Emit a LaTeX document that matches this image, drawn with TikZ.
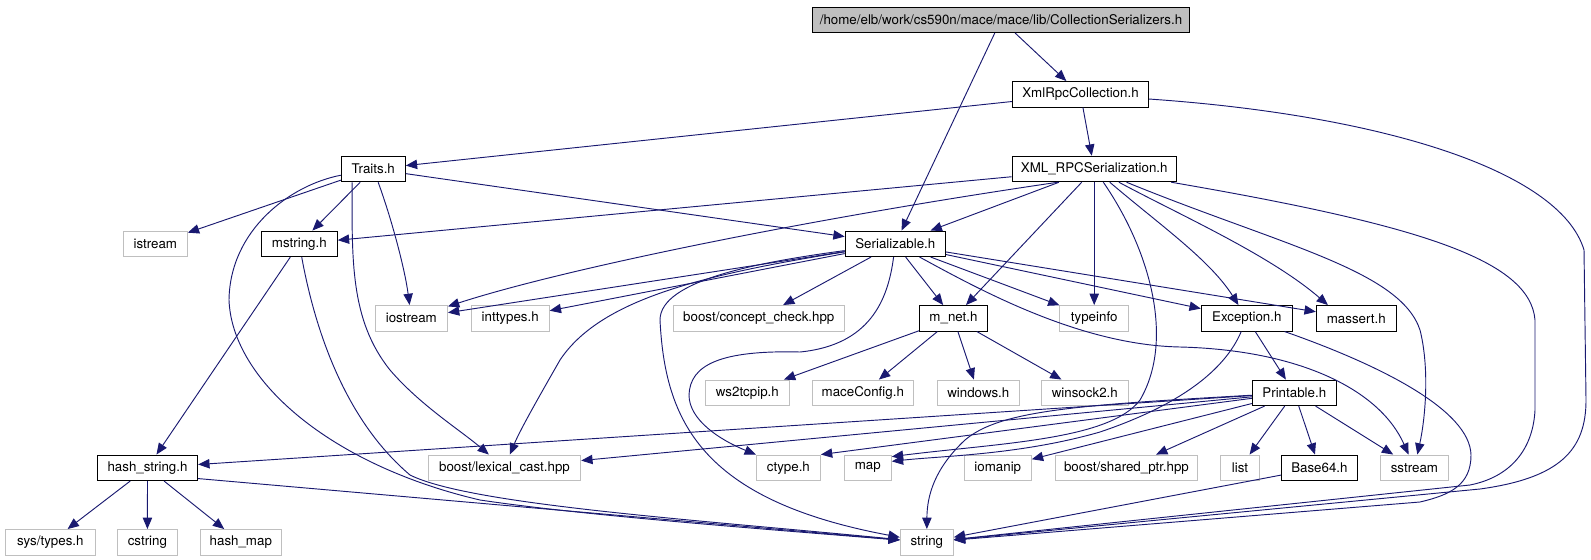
\documentclass[tikz,border=0pt]{standalone}
\usepackage{fontspec}
\setmainfont{TeX Gyre Heros}
\usetikzlibrary{arrows.meta}
\definecolor{edgec}{HTML}{191970}
\definecolor{gbord}{HTML}{BFBFBF}
\definecolor{topfill}{HTML}{BFBFBF}
\begin{document}
\begin{tikzpicture}[x=0.75pt,y=-0.75pt,
  font=\fontsize{10}{12}\selectfont,
  doc/.style={draw=black,line width=0.75pt,fill=white,inner sep=0pt,minimum height=25.5*0.75pt,minimum width=#1*0.75pt},
  sys/.style={draw=gbord,line width=0.75pt,fill=white,inner sep=0pt,minimum height=25.5*0.75pt,minimum width=#1*0.75pt},
  dep/.style={draw=edgec,line width=0.7pt,-{Triangle[length=8.5pt,width=7pt]}}]
\useasboundingbox (0,0) rectangle (1591,560);
% nodes
\node[doc=377.5,fill=topfill] (top) at (1001,19.8) {/home/elb/work/cs590n/mace/mace/lib/CollectionSerializers.h};
\node[doc=136.4] (xmlrpc) at (1080.5,94.3) {XmlRpcCollection.h};
\node[doc=164] (xmlrpcser) at (1094.2,169) {XML\_RPCSerialization.h};
\node[doc=64] (traits) at (373.3,169) {Traits.h};
\node[sys=64] (istream) at (155.3,243.8) {istream};
\node[doc=76] (mstring) at (299.3,243.8) {mstring.h};
\node[doc=100.2] (serializable) at (895.3,243.8) {Serializable.h};
\node[sys=72.3] (iostream) at (411.3,318.3) {iostream};
\node[sys=78] (inttypes) at (510.2,318.3) {inttypes.h};
\node[sys=171] (concept) at (758.8,318.3) {boost/concept\_check.hpp};
\node[doc=68] (mnet) at (953.5,318.3) {m\_net.h};
\node[sys=68.5] (typeinfo) at (1094.2,318.3) {typeinfo};
\node[doc=91] (exception) at (1246.8,318.3) {Exception.h};
\node[doc=80] (massert) at (1356.3,318.3) {massert.h};
\node[sys=84] (ws2tcpip) at (747.3,392.8) {ws2tcpip.h};
\node[sys=101] (maceconfig) at (862.8,392.8) {maceConfig.h};
\node[sys=82] (windows) at (978.3,392.8) {windows.h};
\node[sys=87] (winsock) at (1084.8,392.8) {winsock2.h};
\node[doc=84] (printable) at (1294.3,392.8) {Printable.h};
\node[doc=100.4] (hashstring) at (147.5,467.8) {hash\_string.h};
\node[sys=152.4] (lexical) at (504.5,467.8) {boost/lexical\_cast.hpp};
\node[sys=64] (ctype) at (788.4,467.8) {ctype.h};
\node[sys=47] (map) at (867.8,467.8) {map};
\node[sys=67] (iomanip) at (997.8,467.8) {iomanip};
\node[sys=142] (sharedptr) at (1126.4,467.8) {boost/shared\_ptr.hpp};
\node[sys=39.6] (list) at (1240,467.8) {list};
\node[doc=76] (base64) at (1319.4,467.8) {Base64.h};
\node[sys=68] (sstream) at (1414.4,467.8) {sstream};
\node[sys=90] (systypes) at (50.3,542.3) {sys/types.h};
\node[sys=60] (cstring) at (147.4,542.3) {cstring};
\node[sys=81] (hashmap) at (240.8,542.3) {hash\_map};
\node[sys=53] (string) at (926.8,542.3) {string};
% edges from CollectionSerializers.h
\draw[dep] (top) -- (xmlrpc);
\draw[dep] (top) -- (serializable);
% XmlRpcCollection.h
\draw[dep] (xmlrpc) -- (traits);
\draw[dep] (xmlrpc) -- (xmlrpcser);
\draw[dep] (xmlrpc) .. controls (1380,115) and (1560,170) .. (1584,250) -- (1586,400) .. controls (1586,450) and (1560,478) .. (1480,489) -- (string);
% XML_RPCSerialization.h
\draw[dep] (xmlrpcser) -- (mstring);
\draw[dep] (xmlrpcser.200) .. controls (800,220) and (560,270) .. (iostream);
\draw[dep] (xmlrpcser) -- (serializable);
\draw[dep] (xmlrpcser) -- (mnet);
\draw[dep] (xmlrpcser) -- (typeinfo);
\draw[dep] (xmlrpcser) .. controls (1150,250) and (1175,340) .. (1140,400) .. controls (1110,440) and (1000,443) .. (map.25);
\draw[dep] (xmlrpcser) .. controls (1160,225) and (1210,260) .. (exception);
\draw[dep] (xmlrpcser) .. controls (1180,215) and (1270,255) .. (massert.155);
\draw[dep] (xmlrpcser) .. controls (1280,245) and (1400,270) .. (1420,330) .. controls (1430,370) and (1425,420) .. (sstream);
\draw[dep] (xmlrpcser) .. controls (1420,225) and (1530,260) .. (1535,320) -- (1535,410) .. controls (1533,450) and (1510,477) .. (1470,485) -- (string);
% Traits.h
\draw[dep] (traits) -- (istream);
\draw[dep] (traits) .. controls (290,185) and (230,230) .. (229,300) .. controls (232,380) and (330,465) .. (480,500) .. controls (580,515) and (750,528) .. (string);
\draw[dep] (traits) -- (mstring);
\draw[dep] (traits.212) .. controls (352,260) and (350,320) .. (390,370) .. controls (420,405) and (460,430) .. (lexical);
\draw[dep] (traits) .. controls (392,220) and (405,270) .. (iostream);
\draw[dep] (traits) -- (serializable);
% mstring.h
\draw[dep] (mstring) -- (hashstring);
\draw[dep] (mstring) .. controls (315,330) and (345,420) .. (410,475) .. controls (470,505) and (700,520) .. (string);
% Serializable.h
\draw[dep] (serializable) -- (iostream);
\draw[dep] (serializable) -- (inttypes);
\draw[dep] (serializable) .. controls (700,275) and (600,300) .. (560,360) .. controls (540,395) and (520,430) .. (lexical);
\draw[dep] (serializable) .. controls (760,262) and (660,280) .. (660,320) .. controls (665,420) and (700,500) .. (string);
\draw[dep] (serializable) -- (concept);
\draw[dep] (serializable) .. controls (888,300) and (870,345) .. (800,352) .. controls (720,350) and (690,365) .. (689,395) .. controls (689,420) and (720,440) .. (ctype.north west);
\draw[dep] (serializable) -- (mnet);
\draw[dep] (serializable) -- (typeinfo);
\draw[dep] (serializable) .. controls (980,290) and (1080,345) .. (1180,347) .. controls (1300,350) and (1380,390) .. (sstream);
\draw[dep] (serializable) -- (exception);
\draw[dep] (serializable) -- (massert);
% m_net.h
\draw[dep] (mnet) -- (ws2tcpip);
\draw[dep] (mnet) -- (maceconfig);
\draw[dep] (mnet) -- (windows);
\draw[dep] (mnet) -- (winsock);
% Exception.h
\draw[dep] (exception) -- (printable);
\draw[dep] (exception) .. controls (1225,370) and (1180,405) .. (1100,432) .. controls (1020,455) and (940,456) .. (map.15);
\draw[dep] (exception) .. controls (1380,365) and (1470,410) .. (1471,455) .. controls (1471,485) and (1450,495) .. (1420,502) -- (string);
% Printable.h
\draw[dep] (printable) -- (hashstring);
\draw[dep] (printable) -- (lexical);
\draw[dep] (printable) -- (ctype.north east);
\draw[dep] (printable) -- (iomanip);
\draw[dep] (printable) -- (sharedptr);
\draw[dep] (printable) -- (list);
\draw[dep] (printable) -- (base64);
\draw[dep] (printable) -- (sstream);
\draw[dep] (printable) .. controls (1080,405) and (1000,410) .. (965,440) .. controls (935,468) and (927,495) .. (string);
% hash_string.h
\draw[dep] (hashstring) -- (systypes);
\draw[dep] (hashstring) -- (cstring);
\draw[dep] (hashstring) -- (hashmap);
\draw[dep] (hashstring.-12) -- (string);
% Base64.h
\draw[dep] (base64) -- (string);
\end{tikzpicture}
\end{document}
